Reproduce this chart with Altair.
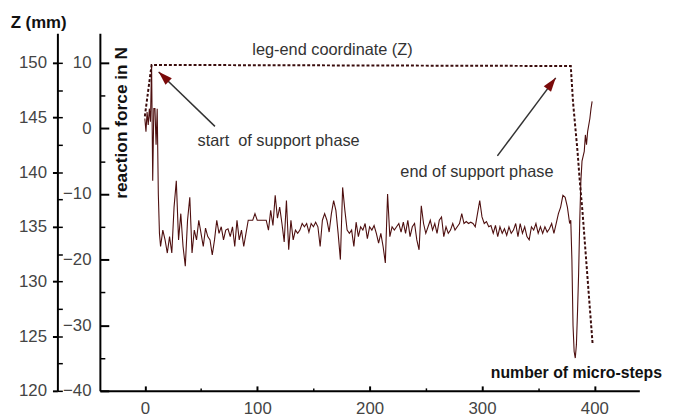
import math
import altair as alt
import pandas as pd

# ---------------- data ----------------
# reaction force (N) vs micro-step
start_steps = list(range(0, 14))
start_force = [1.5, -0.5, 2.5, 0.5, 3, 1, 9.8, -8, 3, 3, -2.5, 3, -10, -16]

mid_steps = list(range(14, 371, 2))
mid_force = [
    -18, -15.5, -17, -19, -16.5, -19, -12, -8, -17, -13,
    -18, -21, -14, -10.5, -19, -15.5, -17, -14, -16, -18,
    -15.2, -16.5, -17, -19.3, -17, -14, -16, -15, -17, -15.5,
    -15.3, -16.5, -15, -18, -14, -17, -15.5, -18, -16, -14,
    -14, -14, -13, -14, -14, -14, -14, -14, -15.5, -12.5,
    -14.8, -10.2, -13.7, -12, -14.5, -17.3, -11, -18.5, -14, -17,
    -15.5, -16, -15.5, -14.5, -15, -14.5, -15.8, -14.5, -15, -14.3,
    -15, -18, -14, -13, -14, -15.8, -13, -11, -12.5, -16,
    -20, -9, -12.5, -15.5, -16, -15.5, -18, -14.3, -16.5, -15,
    -15.5, -14.5, -16.8, -15, -15.5, -14.8, -16, -17.5, -16, -18,
    -20.5, -10, -16.5, -15, -15.5, -15, -14.5, -15.8, -14.3, -16,
    -14, -16.5, -15, -14.5, -17, -18.5, -11.8, -14.5, -16, -15,
    -14, -15.5, -14.5, -16, -14, -13.5, -16.5, -15, -16, -15.5,
    -14.5, -15.5, -15, -14.5, -13, -14.5, -14.2, -14.5, -14.3, -14.5,
    -15, -13, -11, -13.5, -14.5, -14.2, -15, -14.8, -16, -14.8,
    -16.5, -15, -16, -15.3, -16.3, -15, -16, -15.5, -14.5, -16.5,
    -14.5, -16, -15, -16.5, -17, -15, -15.5, -14.5, -16, -15,
    -16, -15, -15.8, -15.3, -14.5, -16, -14.5, -13, -12,
]

end_steps = [372, 374, 376, 378, 379, 380, 381, 382, 383, 384, 385, 386, 387,
             388, 389, 391, 392, 393, 394, 396, 397, 398]
end_force = [-10.2, -10.5, -12, -14.5, -14, -20, -30, -34, -35, -33, -28, -22,
             -14, -8, -5, -3.5, -1, -2.5, -0.5, 1.5, 3, 4.1]

# leg-end coordinate Z (mm)
z_steps = [0, 6, 379, 381, 385, 387, 389.5, 394, 398.5]
z_mm = [145.1, 149.8, 149.7, 146.4, 141.9, 139.2, 136.3, 130.2, 124.2]

# axis ticks
x_ticks = [0, 100, 200, 300, 400]
x_minor = [50, 150, 250, 350]
f_ticks = [-40, -30, -20, -10, 0, 10]
f_minor = [-35, -25, -15, -5, 5]
z_ticks = [120, 125, 130, 135, 140, 145, 150]
z_all = [120, 122.5, 125, 127.5, 130, 132.5, 135, 137.5, 140, 142.5, 145, 147.5, 150]

# annotations (data coordinates: step, force)
ann_text = ["leg-end coordinate (Z)", "start\u00a0\u00a0of support phase", "end of support phase"]
ann_x = [167, 119, 295.5]
ann_y = [11.9, -2.0, -6.6]

arrow_tail_x = [62.4, 313.7]
arrow_tail_y = [0.3, -4.2]
arrow_tip_x = [12.3, 365.6]
arrow_tip_y = [8.6, 7.7]

# ---------------- layout ----------------
W, H = 546, 362
X_DOM = [-40, 440]
F_DOM = [-40, 14.5]
Z_DOM = [120, 152.7]
FONT = "Liberation Sans"
LINE_RED = "#4e0f0f"
HEAD_RED = "#7a0a0a"

df_f = pd.DataFrame({"step": start_steps + mid_steps + end_steps,
                     "force": start_force + mid_force + end_force})
df_z = pd.DataFrame({"step": z_steps, "z": z_mm})


def xs():
    return alt.Scale(domain=X_DOM, nice=False, zero=False)


def fs():
    return alt.Scale(domain=F_DOM, nice=False, zero=False)


def zs():
    return alt.Scale(domain=Z_DOM, nice=False, zero=False)


force_line = alt.Chart(df_f).mark_line(color=LINE_RED, strokeWidth=1.1).encode(
    x=alt.X("step:Q", scale=xs(), axis=alt.Axis(
        orient="bottom", values=x_ticks, format="d", title=None, grid=False,
        domain=True, domainColor="black", domainWidth=2,
        ticks=False, tickSize=0, labelPadding=10,
        labelFont=FONT, labelFontSize=17, labelColor="#444")),
    y=alt.Y("force:Q", scale=fs(), axis=alt.Axis(
        orient="left", values=f_ticks, format="d", title=None, grid=False,
        domain=True, domainColor="black", domainWidth=2,
        ticks=False, tickSize=0, labelPadding=9,
        labelFont=FONT, labelFontSize=17, labelColor="#444")),
)

z_line = alt.Chart(df_z).mark_line(color="#3a0c0c", strokeWidth=2, strokeDash=[3, 2]).encode(
    x=alt.X("step:Q", scale=xs(), axis=None),
    y=alt.Y("z:Q", scale=zs(), axis=alt.Axis(
        orient="left", offset=43, values=z_ticks, format="d", title=None, grid=False,
        domain=True, domainColor="black", domainWidth=2,
        ticks=True, tickSize=5, tickWidth=2, tickColor="black", labelPadding=6,
        labelFont=FONT, labelFontSize=17, labelColor="#444")),
)


def tick_layer(xv, xsize, fv, fsize, width):
    return alt.Chart(df_f).mark_point(opacity=0).encode(
        x=alt.X("step:Q", scale=xs(), axis=alt.Axis(
            orient="bottom", values=xv, offset=-xsize, tickSize=xsize, tickWidth=width,
            tickColor="black", domain=False, labels=False, grid=False, title=None)),
        y=alt.Y("force:Q", scale=fs(), axis=alt.Axis(
            orient="left", values=fv, offset=-fsize, tickSize=fsize, tickWidth=width,
            tickColor="black", domain=False, labels=False, grid=False, title=None)),
    )


major_ticks = tick_layer(x_ticks, 5, f_ticks, 9, 2)
minor_ticks = tick_layer(x_minor, 3, f_minor, 5, 1.5)

z_inner_ticks = alt.Chart(df_z).mark_point(opacity=0).encode(
    x=alt.X("step:Q", scale=xs(), axis=None),
    y=alt.Y("z:Q", scale=zs(), axis=alt.Axis(
        orient="left", values=z_all, offset=38, tickSize=5, tickWidth=1.5,
        tickColor="black", domain=False, labels=False, grid=False, title=None)),
)

df_ann = pd.DataFrame({"t": ann_text, "x": ann_x, "y": ann_y})
ann = alt.Chart(df_ann).mark_text(font=FONT, fontSize=16.5, color="#333",
                                  align="center", baseline="middle").encode(
    x=alt.X("x:Q", scale=xs(), axis=None),
    y=alt.Y("y:Q", scale=fs(), axis=None),
    text="t:N",
)

df_lbl = pd.DataFrame({"t": ["Z (mm)", "number of micro-steps"], "x": [-94.5, 384], "y": [16.0, -37.35],
                       "s": [17, 16]})
lbl = alt.Chart(df_lbl).mark_text(font=FONT, fontWeight="bold", color="#111",
                                  align="center", baseline="middle").encode(
    x=alt.X("x:Q", scale=xs(), axis=None),
    y=alt.Y("y:Q", scale=fs(), axis=None),
    text="t:N",
    size=alt.Size("s:Q", scale=None, legend=None),
)

df_rot = pd.DataFrame({"t": ["reaction force in N"], "x": [-20.2], "y": [0.83]})
rot = alt.Chart(df_rot).mark_text(font=FONT, fontWeight="bold", fontSize=17.5, color="#111",
                                  align="center", baseline="middle", angle=270).encode(
    x=alt.X("x:Q", scale=xs(), axis=None),
    y=alt.Y("y:Q", scale=fs(), axis=None),
    text="t:N",
)

# arrows
px_x = W / (X_DOM[1] - X_DOM[0])
px_y = H / (F_DOM[1] - F_DOM[0])
head_x, head_y, head_a = [], [], []
for tx, ty, hx, hy in zip(arrow_tail_x, arrow_tail_y, arrow_tip_x, arrow_tip_y):
    dx = (hx - tx) * px_x
    dy = -(hy - ty) * px_y
    L = math.hypot(dx, dy)
    ux, uy = dx / L, dy / L
    ang = math.degrees(math.atan2(ux, -uy)) % 360
    cx = hx - 7 * ux / px_x
    cy = hy + 7 * uy / px_y
    head_x.append(cx)
    head_y.append(cy)
    head_a.append(ang)

df_arrow = pd.DataFrame({"x": arrow_tail_x, "y": arrow_tail_y, "x2": arrow_tip_x, "y2": arrow_tip_y})
shafts = alt.Chart(df_arrow).mark_rule(color="#333", strokeWidth=1.5).encode(
    x=alt.X("x:Q", scale=xs(), axis=None),
    y=alt.Y("y:Q", scale=fs(), axis=None),
    x2="x2:Q", y2="y2:Q",
)
df_head = pd.DataFrame({"x": head_x, "y": head_y, "a": head_a})
heads = alt.Chart(df_head).mark_point(
    shape="M0,-1L0.65,1L-0.65,1Z", filled=True, color=HEAD_RED, opacity=1, size=200, strokeWidth=0
).encode(
    x=alt.X("x:Q", scale=xs(), axis=None),
    y=alt.Y("y:Q", scale=fs(), axis=None),
    angle=alt.Angle("a:Q", scale=None),
)

chart = alt.layer(
    force_line, z_line, major_ticks, minor_ticks, z_inner_ticks,
    ann, lbl, rot, shafts, heads,
).resolve_scale(x="independent", y="independent").properties(
    width=W, height=H,
    autosize=alt.AutoSizeParams(type="none"),
    padding={"left": 93, "top": 23, "right": 27, "bottom": 27},
    background="white",
).configure_view(stroke=None)

chart.save("out.html", embed_options={"renderer": "svg", "actions": False})
